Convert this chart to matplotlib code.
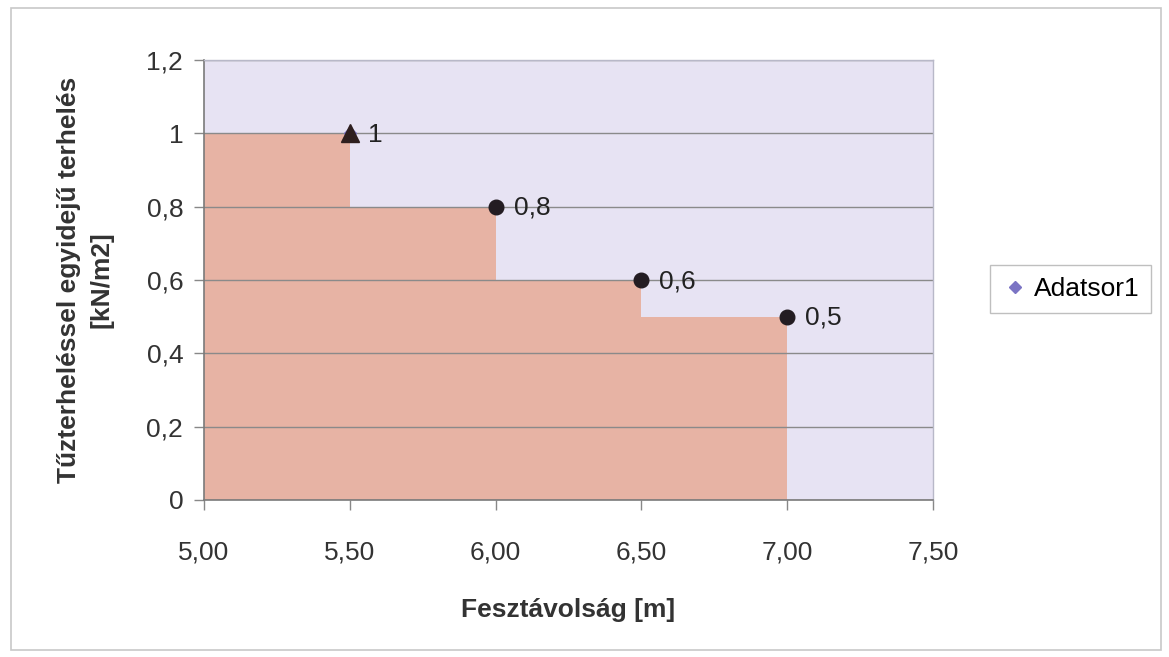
import matplotlib
matplotlib.use('Agg')
import matplotlib.pyplot as plt
from matplotlib.patches import Rectangle

# span [m] and load [kN/m2]
span = [5.5, 6.0, 6.5, 7.0]
load = [1.0, 0.8, 0.6, 0.5]
point_labels = ['1', '0,8', '0,6', '0,5']
x_start = 5.0

xticks = [5.0, 5.5, 6.0, 6.5, 7.0, 7.5]
xtick_labels = ['5,00', '5,50', '6,00', '6,50', '7,00', '7,50']
yticks = [0, 0.2, 0.4, 0.6, 0.8, 1.0, 1.2]
ytick_labels = ['0', '0,2', '0,4', '0,6', '0,8', '1', '1,2']

plt.rcParams['font.family'] = ['Liberation Sans', 'DejaVu Sans']

fig = plt.figure(figsize=(11.69, 6.57), dpi=100)
fig.patch.set_facecolor('white')
fig.patches.append(Rectangle((0.009, 0.01), 0.984, 0.978, transform=fig.transFigure,
                             fill=False, edgecolor='#c8c8c8', linewidth=1.2))

ax = fig.add_axes([0.1745, 0.239, 0.6235, 0.670])
ax.set_facecolor('#e7e3f3')

# stepped area
ax.fill_between([x_start] + span, [load[0]] + load, step='pre',
                color='#e7b3a4', linewidth=0, zorder=1)

ax.grid(True, axis='y', color='#8a8a8a', linewidth=1.0, zorder=2)

# series
ax.plot(span, load, linestyle='none', marker='D', markersize=6,
        color='#7b74c4', label='Adatsor1', zorder=3)
ax.plot(span[0], load[0], linestyle='none', marker='^', markersize=13,
        color='#2e1f1f', zorder=4)
ax.plot(span[1:], load[1:], linestyle='none', marker='o', markersize=10.5,
        color='#231c22', zorder=4)

for xv, yv, lab in zip(span, load, point_labels):
    ax.annotate(lab, (xv, yv), xytext=(13, -1), textcoords='offset points',
                va='center', ha='left', fontsize=19, color='#222222', zorder=5)

ax.set_xlim(5.0, 7.5)
ax.set_ylim(0, 1.2)
ax.set_xticks(xticks)
ax.set_xticklabels(xtick_labels)
ax.set_yticks(yticks)
ax.set_yticklabels(ytick_labels)
ax.tick_params(axis='both', labelsize=19, colors='#333333', length=7, width=1,
               color='#888888')
ax.tick_params(axis='x', pad=22)
ax.tick_params(axis='y', pad=8)

for s in ['left', 'bottom']:
    ax.spines[s].set_color('#7a7a7a')
    ax.spines[s].set_linewidth(1.2)
for s in ['top', 'right']:
    ax.spines[s].set_color('#b8b8c8')
    ax.spines[s].set_linewidth(1.0)

ax.set_xlabel('Fesztávolság [m]', fontsize=19, fontweight='bold', color='#333333', labelpad=24)
ax.set_ylabel('Tűzterheléssel egyidejű terhelés\n[kN/m2]', fontsize=19, fontweight='bold',
              color='#333333', labelpad=24, linespacing=1.4)

leg = fig.legend(loc='center right', bbox_to_anchor=(0.996, 0.56), fontsize=19,
                 frameon=True, fancybox=False, handletextpad=0.2, handlelength=1.0,
                 borderpad=0.45, markerscale=1.0)
leg.get_frame().set_edgecolor('#b0b0b0')
leg.get_frame().set_linewidth(1.0)

fig.savefig('out.png', dpi=100)
